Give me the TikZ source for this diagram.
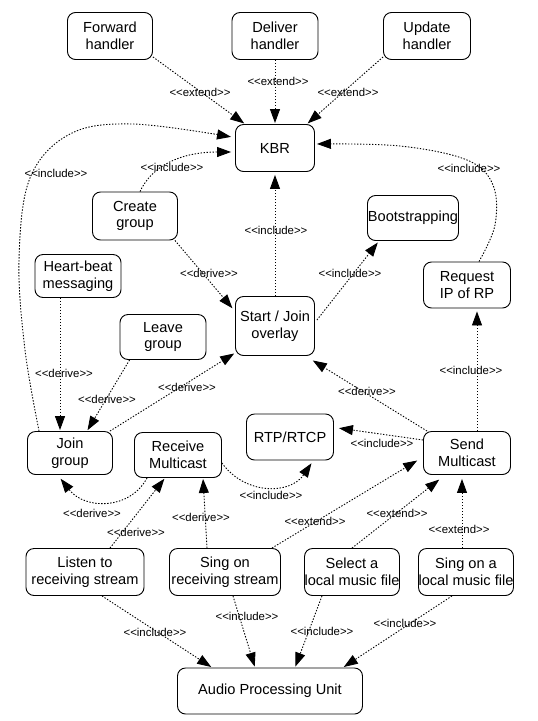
\documentclass[tikz,border=0pt]{standalone}
\usepackage{fontspec}
\setmainfont{Liberation Sans}
\usetikzlibrary{arrows.meta,calc}
\newcommand\ster[1]{<\kern0pt<#1>\kern0pt>}
\begin{document}
\begin{tikzpicture}[x=1pt,y=-1pt,
  uc/.style={draw, line width=0.9pt, rounded corners=8pt, align=center, inner sep=0pt,
    font=\fontsize{14.6}{16.5}\selectfont},
  lab/.style={inner sep=0pt, font=\fontsize{11.4}{13}\selectfont},
  dep/.style={line width=0.9pt, dash pattern=on 1.4pt off 1.6pt,
    -{Triangle[length=14pt,width=10pt]}, shorten >=1pt}]
\useasboundingbox (0,0) rectangle (538,721);
% nodes
\node[uc, minimum width=85pt, minimum height=47pt] (fwd) at (110,36) {Forward\\handler};
\node[uc, minimum width=86pt, minimum height=47pt] (del) at (275,36) {Deliver\\handler};
\node[uc, minimum width=87pt, minimum height=47pt] (upd) at (427,36) {Update\\handler};
\node[uc, minimum width=79pt, minimum height=47pt] (kbr) at (275,148) {KBR};
\node[uc, minimum width=85pt, minimum height=48pt] (create) at (135,216) {Create\\group};
\node[uc, minimum width=91pt, minimum height=45pt] (boot) at (413,218) {Bootstrapping};
\node[uc, minimum width=86pt, minimum height=43pt] (heart) at (78,276) {Heart-beat\\messaging};
\node[uc, minimum width=86pt, minimum height=45pt] (leave) at (163,337) {Leave\\group};
\node[uc, minimum width=79pt, minimum height=59pt] (start) at (275,326) {Start / Join\\overlay};
\node[uc, minimum width=87pt, minimum height=46pt] (req) at (467,285) {Request\\IP of RP};
\node[uc, minimum width=85pt, minimum height=43pt] (join) at (70,453) {Join\\group};
\node[uc, minimum width=87pt, minimum height=45pt] (recv) at (178,455) {Receive\\Multicast};
\node[uc, minimum width=87pt, minimum height=46pt] (rtp) at (290,437) {RTP/RTCP};
\node[uc, minimum width=87pt, minimum height=43pt] (send) at (467,453) {Send\\Multicast};
\node[uc, minimum width=118pt, minimum height=47pt] (listen) at (85,572) {Listen to\\receiving stream};
\node[uc, minimum width=111pt, minimum height=47pt] (singr) at (225,572) {Sing on\\receiving stream};
\node[uc, minimum width=91pt, minimum height=47pt] (select) at (352,572) {Select a\\local music file};
\node[uc, minimum width=92pt, minimum height=47pt] (singl) at (466,572) {Sing on a\\local music file};
\node[uc, minimum width=185pt, minimum height=46pt] (apu) at (270,691) {Audio Processing Unit};
% connectors
\draw[dep] ($(fwd.south east)+(0,-3)$) -- ($(kbr.north west)+(10,0)$);
\draw[dep] (del.south) -- (kbr.north);
\draw[dep] ($(upd.south west)+(0,-3)$) -- ($(kbr.north east)+(-8,0)$);
\draw[dep] plot[smooth, tension=0.6] coordinates {($(join.north west)+(12,0)$) (25,350) (19,260) (30,178) (70,134) (133,124) ($(kbr.north west)+(-3,13)$)};
\draw[dep] ($(create.north)+(5,0)$) .. controls (155,160) and (190,152) .. ($(kbr.west)+(-3,4)$);
\draw[dep] ($(create.south east)+(-3,0)$) -- ($(start.north west)+(-2,13)$);
\draw[dep, shorten >=3pt] (start.north) -- (kbr.south);
\draw[dep, shorten >=2pt] ($(start.east)+(2,-6)$) -- ($(boot.south west)+(12,0)$);
\draw[dep, shorten >=2pt] plot[smooth, tension=0.6] coordinates {($(req.north)+(12,0)$) (495,225) (493,185) (467,160) (400,146) ($(kbr.east)+(0,-4)$)};
\draw[dep] ($(heart.south)+(-18,0)$) -- ($(join.north)+(-10,0)$);
\draw[dep] ($(leave.south west)+(10,0)$) -- ($(join.north)+(17,0)$);
\draw[dep] ($(join.north east)+(-3,0)$) -- ($(start.south west)+(0,-3)$);
\draw[dep] ($(send.north west)+(4,0)$) -- ($(start.south east)+(-3,4)$);
\draw[dep] ($(send.west)+(0,-13)$) -- ($(rtp.east)+(4,-9)$);
\draw[dep, shorten >=3pt] ($(send.north)+(10,0)$) -- ($(req.south)+(10,0)$);
\draw[dep] ($(recv.east)+(0,8)$) .. controls (245,495) and (290,495) .. ($(rtp.south)+(22,2)$);
\draw[dep] ($(recv.south west)+(13,0)$) .. controls (130,510) and (85,510) .. ($(join.south)+(-10,3)$);
\draw[dep] ($(listen.north)+(25,0)$) -- ($(recv.south)+(-13,0)$);
\draw[dep] ($(singr.north)+(-18,0)$) -- ($(recv.south)+(25,0)$);
\draw[dep] ($(singr.north east)+(-9,0)$) -- ($(send.west)+(-5,7)$);
\draw[dep] (select.north) -- ($(send.south west)+(17,4)$);
\draw[dep] ($(singl.north)+(-4,0)$) -- ($(send.south)+(-5,3)$);
\draw[dep] ($(listen.south)+(17,0)$) -- ($(apu.north west)+(35,0)$);
\draw[dep] ($(singr.south)+(8,0)$) -- ($(apu.north)+(-15,0)$);
\draw[dep] ($(select.south)+(-30,0)$) -- ($(apu.north)+(25,0)$);
\draw[dep] ($(singl.south)+(-14,0)$) -- ($(apu.north east)+(-20,0)$);
% labels
\node[lab] (l1) at (200,92) {\ster{extend}};
\node[lab] (l2) at (278,81) {\ster{extend}};
\node[lab] (l3) at (348,92) {\ster{extend}};
\node[lab] (l4) at (56,173) {\ster{include}};
\node[lab] (l5) at (172,167) {\ster{include}};
\node[lab] (l6) at (469,168) {\ster{include}};
\node[lab] (l7) at (276,230) {\ster{include}};
\node[lab] (l8) at (209,273) {\ster{derive}};
\node[lab] (l9) at (350,273) {\ster{include}};
\node[lab] (l10) at (64,373) {\ster{derive}};
\node[lab] (l11) at (107,399) {\ster{derive}};
\node[lab] (l12) at (187,387) {\ster{derive}};
\node[lab] (l13) at (367,391) {\ster{derive}};
\node[lab] (l14) at (382,443) {\ster{include}};
\node[lab] (l15) at (471,370) {\ster{include}};
\node[lab] (l16) at (271,495) {\ster{include}};
\node[lab] (l17) at (92,513) {\ster{derive}};
\node[lab] (l18) at (136,532) {\ster{derive}};
\node[lab] (l19) at (201,517) {\ster{derive}};
\node[lab] (l20) at (315,521) {\ster{extend}};
\node[lab] (l21) at (397,513) {\ster{extend}};
\node[lab] (l22) at (459,529) {\ster{extend}};
\node[lab] (l23) at (155,632) {\ster{include}};
\node[lab] (l24) at (247,616) {\ster{include}};
\node[lab] (l25) at (322,631) {\ster{include}};
\node[lab] (l26) at (405,623) {\ster{include}};
\end{tikzpicture}
\end{document}
